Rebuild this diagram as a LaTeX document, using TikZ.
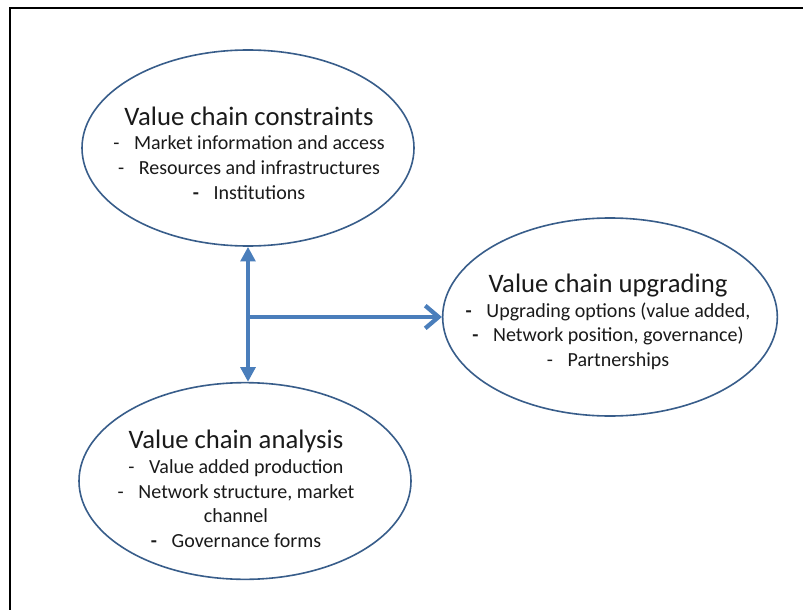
\documentclass[tikz,border=0pt]{standalone}
\usepackage{fontspec}
\setmainfont{Carlito}
\usetikzlibrary{arrows.meta,shapes.geometric}
\definecolor{ellline}{HTML}{385D8A}
\definecolor{arrblue}{HTML}{4A7EBB}
\definecolor{txt}{HTML}{1A1A1A}
\newcommand{\ttl}[1]{{\fontsize{20}{22}\selectfont #1}}
\newcommand{\dsh}{-\hspace{11pt}}
\newcommand{\bdsh}{\textbf{-}\hspace{11pt}}
\tikzset{
  ell/.style={draw=ellline, line width=1.2pt, ellipse, inner sep=0pt},
  body/.style={align=center, text=txt, font=\fontsize{15}{18.5}\selectfont, inner sep=0pt},
  conn/.style={draw=arrblue, line width=3.2pt},
}
\begin{document}
\begin{tikzpicture}[x=0.75pt,y=-0.75pt]
\useasboundingbox (0,0) rectangle (803,610);
\fill[white] (0,0) rectangle (803,610);
% frame (top and left only)
\draw[line width=1.7pt, black] (10,610) -- (10,7.8) -- (803,7.8);
% ellipses
\node[ell, minimum width=249pt, minimum height=147pt] (cons) at (248,148) {};
\node[ell, minimum width=251pt, minimum height=148.5pt] (upg) at (610,317) {};
\node[ell, minimum width=249pt, minimum height=147.5pt] (anal) at (245,481) {};
% texts
\node[body] (tcons) at (249,153) {\ttl{Value chain constraints}\\[0pt]
  \dsh Market information and access\\
  \dsh Resources and infrastructures\\
  \bdsh Institutions};
\node[body] (tupg) at (608,322) {\ttl{Value chain upgrading}\\[0pt]
  \bdsh Upgrading options (value added,\\
  \bdsh Network position, governance)\\
  \dsh Partnerships};
\node[body] (tanal) at (236,489) {\ttl{Value chain analysis}\\[0pt]
  \dsh Value added production\\
  \dsh Network structure, market\\
  channel\\
  \bdsh Governance forms};
% connectors
\coordinate (hub) at (cons.south |- upg.west);
\draw[conn, {Triangle[length=11pt,width=11pt]}-{Triangle[length=11pt,width=11pt]}] (cons.south) -- (cons.south |- anal.north);
\draw[conn, -{Straight Barb[length=10pt,width=17pt,line width=3.2pt]}] (hub) -- (upg.west);
\end{tikzpicture}
\end{document}
